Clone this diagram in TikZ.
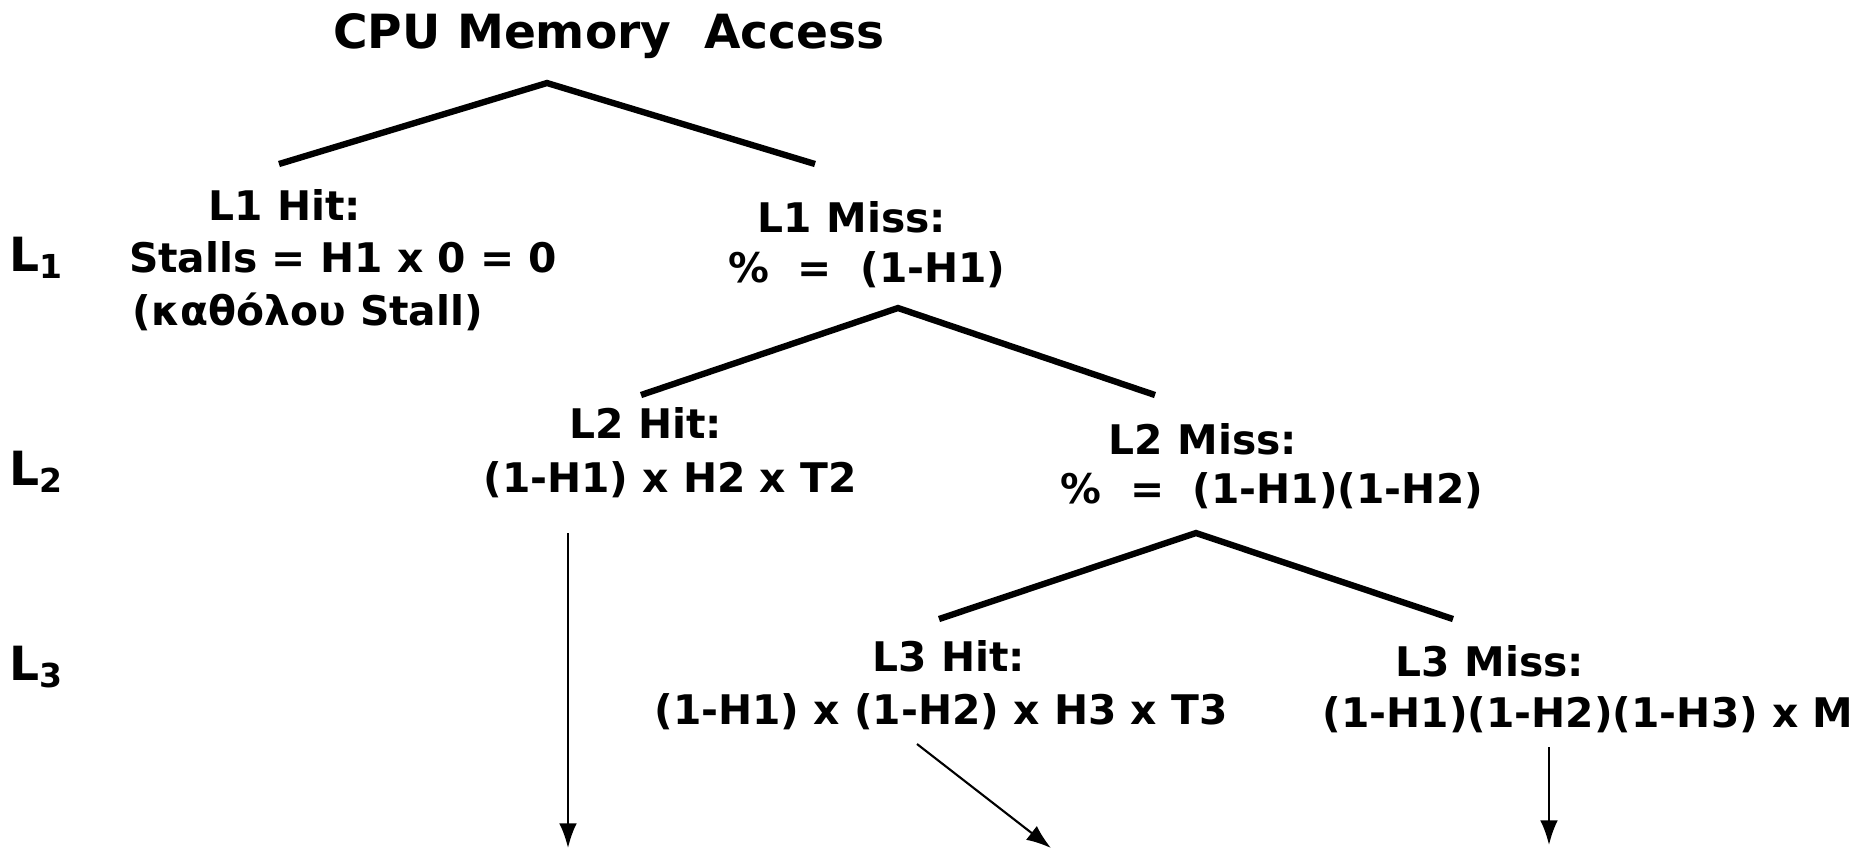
\documentclass[tikz,border=0pt]{standalone}
\usepackage{fontspec}
\setmainfont{DejaVu Sans}
\usetikzlibrary{arrows.meta}

\tikzset{
    txt/.style={font=\bfseries\fontsize{11.6}{13}\selectfont, inner sep=0pt},
    big/.style={font=\bfseries\fontsize{13.4}{16}\selectfont, inner sep=0pt},
    branch/.style={line width=1.8pt},
    down/.style={line width=0.6pt, -{Latex[length=7pt,width=5pt]}}
}

\begin{document}
\begin{tikzpicture}[x=0.01cm, y=-0.01cm]
    \useasboundingbox (0,0) rectangle (1860,850);

    % title and level labels
    \node[big] (cpu) at (609,36) {CPU Memory\ \ Access};
    \node[big] (lev1) at (37,258) {L\textsubscript{1}};
    \node[big] (lev2) at (37,472) {L\textsubscript{2}};
    \node[big] (lev3) at (37,667) {L\textsubscript{3}};

    % L1
    \node[txt] (l1hit) at (285,205) {L1 Hit:};
    \node[txt] (l1hitval) at (343,257) {Stalls = H1 x 0 = 0};
    \node[txt] (l1hitnote) at (308,312) {(καθόλου Stall)};
    \node[txt] (l1miss) at (852,217) {L1 Miss:};
    \node[txt] (l1missval) at (867,270) {\%\ \ =\ \ (1-H1)};

    % L2
    \node[txt] (l2hit) at (646,423) {L2 Hit:};
    \node[txt] (l2hitval) at (670,480) {(1-H1) x H2 x T2};
    \node[txt] (l2miss) at (1203,439) {L2 Miss:};
    \node[txt] (l2missval) at (1272,491) {\%\ \ =\ \ (1-H1)(1-H2)};

    % L3
    \node[txt] (l3hit) at (949,656) {L3 Hit:};
    \node[txt] (l3hitval) at (941,712) {(1-H1) x (1-H2) x H3 x T3};
    \node[txt] (l3miss) at (1490,661) {L3 Miss:};
    \node[txt] (l3missval) at (1588,715) {(1-H1)(1-H2)(1-H3) x M};

    % tree branches
    \coordinate (top0) at (547,83);
    \coordinate (hit1) at (279,164);
    \coordinate (miss1) at (815,164);
    \coordinate (top1) at (898,308);
    \coordinate (hit2) at (641,395);
    \coordinate (miss2) at (1155,395);
    \coordinate (top2) at (1196,533);
    \coordinate (hit3) at (939,619);
    \coordinate (miss3) at (1453,619);
    \draw[branch] (hit1) -- (top0) -- (miss1);
    \draw[branch] (hit2) -- (top1) -- (miss2);
    \draw[branch] (hit3) -- (top2) -- (miss3);

    % arrows leaving the page
    \coordinate (end2) at (568,848);
    \coordinate (end3) at (1051,848);
    \coordinate (endm) at (1549,845);
    \draw[down] (568,533) -- (end2);
    \draw[down] (917,744) -- (end3);
    \draw[down] (1549,747) -- (endm);
\end{tikzpicture}
\end{document}
